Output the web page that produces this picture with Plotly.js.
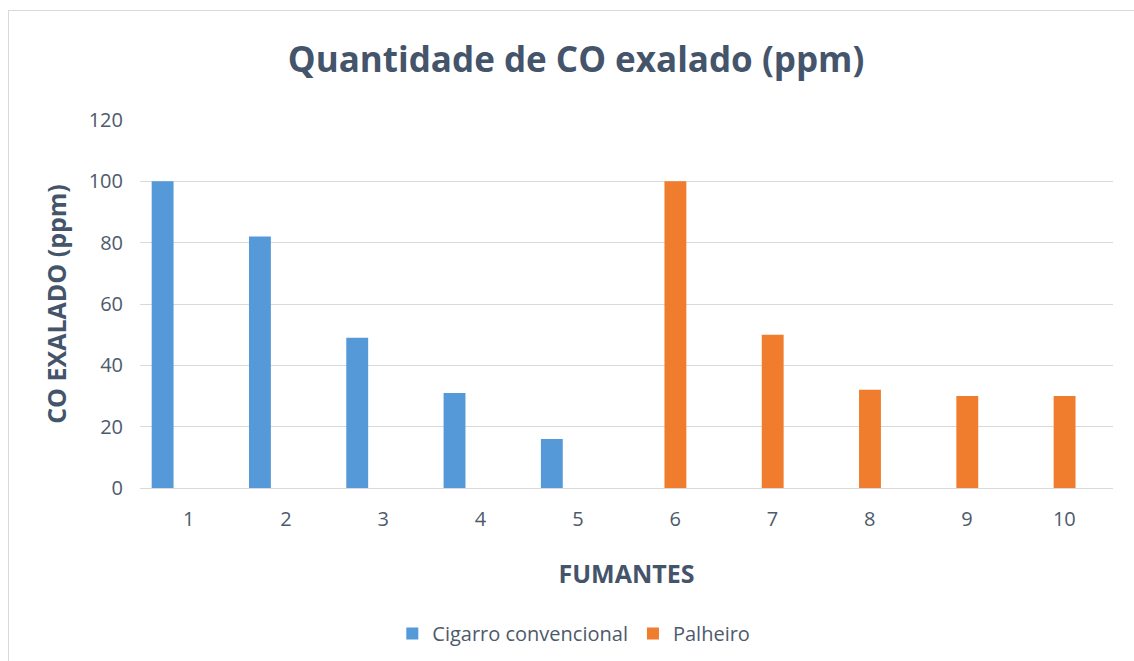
<!DOCTYPE html>
<html>
<head>
<meta charset="utf-8">
<script src="https://cdn.plot.ly/plotly-3.0.1.min.js"></script>
<style>
html,body{margin:0;padding:0;background:#fff;}
#wrap{position:relative;width:1134px;height:661px;}
#chart{width:1134px;height:661px;}
#frame{position:absolute;left:8px;top:10px;width:1140px;height:660px;border:1px solid #d9d9d9;pointer-events:none;box-sizing:border-box;}
</style>
</head>
<body>
<div id="wrap"><div id="chart"></div><div id="frame"></div></div>
<script>
const categories = ["1","2","3","4","5","6","7","8","9","10"];
const cigarroConvencional = [100, 82, 49, 31, 16, 0, 0, 0, 0, 0];
const palheiro = [0, 0, 0, 0, 0, 100, 50, 32, 30, 30];
const yTicks = [0, 20, 40, 60, 80, 100, 120];

const font = "Open Sans, DejaVu Sans, sans-serif";
const textColor = "#44546a";
const tickColor = "#4d5a6c";

const traces = [
  {type: "bar", name: "Cigarro convencional", x: categories, y: cigarroConvencional,
   width: 0.225, offset: -0.38, marker: {color: "#5599d9"}, hoverinfo: "x+y"},
  {type: "bar", name: "Palheiro", x: categories, y: palheiro,
   width: 0.225, offset: -0.11, marker: {color: "#f07d2e"}, hoverinfo: "x+y"}
];

const layout = {
  width: 1134, height: 661,
  margin: {l: 140, r: 21, t: 120, b: 173},
  paper_bgcolor: "#fff", plot_bgcolor: "#fff",
  barmode: "overlay",
  showlegend: true,
  font: {family: font, color: tickColor},
  title: {text: "<b>Quantidade de CO exalado (ppm)</b>", font: {family: font, size: 35, color: textColor},
          x: 0.508, xanchor: "center", xref: "container", y: 0.91, yanchor: "middle"},
  xaxis: {type: "category", categoryarray: categories, showgrid: false, zeroline: false,
          showline: false, ticks: "", tickfont: {size: 20, color: tickColor}, ticklabelstandoff: 17,
          title: {text: "<b>FUMANTES</b>", font: {size: 25, color: textColor}, standoff: 34}},
  yaxis: {range: [0, 120], tickvals: yTicks, showgrid: true, gridcolor: "#d9d9d9", gridwidth: 1,
          zeroline: true, zerolinecolor: "#d9d9d9", zerolinewidth: 1, showline: false, ticks: "",
          tickfont: {size: 20, color: tickColor}, ticklabelstandoff: 16,
          title: {text: "<b>CO EXALADO (ppm)</b>", font: {size: 25, color: textColor}, standoff: 14}},
  legend: {orientation: "h", x: 0.506, xref: "container", xanchor: "center", y: 0.012, yref: "container",
           yanchor: "bottom", font: {size: 20, color: tickColor}, traceorder: "normal", itemwidth: 30}
};

Plotly.newPlot("chart", traces, layout, {displayModeBar: false, staticPlot: true});
</script>
</body>
</html>
